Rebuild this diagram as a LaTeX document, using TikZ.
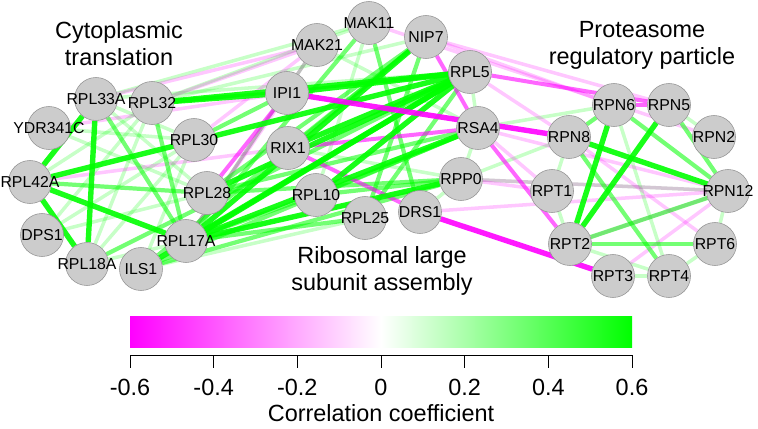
\documentclass[tikz,border=0pt]{standalone}
\usepackage{fontspec}
\setmainfont{Liberation Sans}
\usetikzlibrary{backgrounds}
\definecolor{posgreen}{RGB}{0,255,0}
\definecolor{negpink}{RGB}{255,0,255}
\definecolor{genefill}{RGB}{204,204,204}
\definecolor{geneline}{RGB}{150,150,150}
\newcommand{\gn}[1]{\makebox[0pt]{#1}}

\begin{document}
\begin{tikzpicture}[x=0.03cm, y=-0.03cm, font=\fontsize{13.5}{15}\selectfont]
  \tikzset{gene/.style={circle, fill=genefill, draw=geneline, line width=0.5pt, minimum size=1.29cm, inner sep=0pt},
    title/.style={align=center, font=\fontsize{20}{23}\selectfont},
    gA/.style={posgreen, line width=4.6pt, opacity=0.9},
    gB/.style={posgreen, line width=3.6pt, opacity=0.55},
    gC/.style={posgreen, line width=3pt, opacity=0.22},
    mA/.style={negpink, line width=4.6pt, opacity=0.9},
    mB/.style={negpink, line width=3.4pt, opacity=0.6},
    mC/.style={negpink, line width=3pt, opacity=0.22},
    mixd/.style={gray, line width=3pt, opacity=0.5}}
  \useasboundingbox (0,0) rectangle (758,429);

  % module titles
  \node[title] (cyto) at (119,44) {Cytoplasmic\\translation};
  \node[title] (prot) at (642,45) {Proteasome\\regulatory particle};
  \node[title] (ribo) at (382,271) {Ribosomal large\\subunit assembly};

  % cytoplasmic translation
  \node[gene] (RPL33A) at (96,99) {\gn{RPL33A}};
  \node[gene] (RPL32) at (152,103) {\gn{RPL32}};
  \node[gene] (YDR341C) at (49,128) {\gn{YDR341C}};
  \node[gene] (RPL30) at (194,140) {\gn{RPL30}};
  \node[gene] (RPL42A) at (30,182) {\gn{RPL42A}};
  \node[gene] (RPL28) at (207,193) {\gn{RPL28}};
  \node[gene] (DPS1) at (42,235) {\gn{DPS1}};
  \node[gene] (RPL17A) at (186,241) {\gn{RPL17A}};
  \node[gene] (RPL18A) at (87,264) {\gn{RPL18A}};
  \node[gene] (ILS1) at (141,269) {\gn{ILS1}};

  % ribosomal large subunit assembly
  \node[gene] (MAK11) at (369,23) {\gn{MAK11}};
  \node[gene] (MAK21) at (317,45) {\gn{MAK21}};
  \node[gene] (NIP7) at (426,37) {\gn{NIP7}};
  \node[gene] (RPL5) at (470,72) {\gn{RPL5}};
  \node[gene] (IPI1) at (287,93) {\gn{IPI1}};
  \node[gene] (RSA4) at (478,128) {\gn{RSA4}};
  \node[gene] (RIX1) at (288,148) {\gn{RIX1}};
  \node[gene] (RPP0) at (461,179) {\gn{RPP0}};
  \node[gene] (RPL10) at (316,195) {\gn{RPL10}};
  \node[gene] (DRS1) at (420,212) {\gn{DRS1}};
  \node[gene] (RPL25) at (365,218) {\gn{RPL25}};

  % proteasome regulatory particle
  \node[gene] (RPN6) at (614,105) {\gn{RPN6}};
  \node[gene] (RPN5) at (669,105) {\gn{RPN5}};
  \node[gene] (RPN8) at (569,137) {\gn{RPN8}};
  \node[gene] (RPN2) at (714,137) {\gn{RPN2}};
  \node[gene] (RPT1) at (552,191) {\gn{RPT1}};
  \node[gene] (RPN12) at (728,191) {\gn{RPN12}};
  \node[gene] (RPT2) at (570,244) {\gn{RPT2}};
  \node[gene] (RPT6) at (715,244) {\gn{RPT6}};
  \node[gene] (RPT3) at (613,276) {\gn{RPT3}};
  \node[gene] (RPT4) at (669,276) {\gn{RPT4}};

  % correlations
  \begin{scope}[on background layer]
    \foreach \a/\b in {YDR341C/RPL30, YDR341C/RPL28, RPL32/RPL42A, RPL33A/RPL28, RPL18A/RPL30,
      RPL18A/RPL32, DPS1/RPL30, DPS1/RPL28, ILS1/RPL30, RPL33A/RPL30, RPL32/DPS1, RPL18A/RPP0,
      RPL32/MAK11, RPL32/NIP7, RPL33A/RPL5, ILS1/RPL25, RIX1/RPP0, MAK21/RSA4, MAK11/RPL10,
      RPL5/RSA4, RSA4/RPP0, RPP0/DRS1, RPP0/RPN8, RSA4/RPN6, RPP0/RPN12, RPL33A/MAK11,
      RPN6/RPT4, RPT2/RPT4, RPT4/RPT6, RPN12/RPT6, RPT2/RPT1, RPN8/RPT1, RPT3/RPT4, RPN5/RPN2}
      \draw[gC] (\a) -- (\b);
    \foreach \a/\b in {YDR341C/IPI1, RPL42A/RIX1, RPL33A/MAK21, RPL32/MAK21, RPL30/MAK21,
      NIP7/RPN6, MAK11/RPN2, RPL5/RPN8, RSA4/RPN12, RPP0/RPN12, RPP0/RPT1, RSA4/RPT1,
      DRS1/RPN12, RPN8/RPT6, RPT3/RPN12, RPT2/RPN12, NIP7/RPN5, IPI1/RPL17A}
      \draw[mC] (\a) -- (\b);
    \draw[mixd] (RPL17A) -- (MAK21);
    \foreach \a/\b in {RPL33A/RPL17A, RPL32/RPL17A, RPL42A/RPL28, RPL30/IPI1, RPL17A/RPL10,
      RPL17A/RPL25, ILS1/RPP0, ILS1/RSA4, ILS1/NIP7, RPL18A/RPL5, RPL28/RPP0, RPL28/RSA4,
      RPL28/NIP7, RPL25/RPL5, RPL25/NIP7, MAK11/DRS1, RPL10/RPP0, RPL10/RSA4, NIP7/RIX1,
      RPL17A/MAK11, RPN6/RPN12, RPN5/RPN12, RPN8/RPT4, RPN6/RPN8, RPT2/RPN12, RPT2/RPT6}
      \draw[gB] (\a) -- (\b);
    \foreach \a/\b in {RIX1/RSA4, RIX1/DRS1, RSA4/RPT2, RPL5/RPN5, NIP7/RSA4, IPI1/RPL28,
      RPN6/RPN5}
      \draw[mB] (\a) -- (\b);
    \foreach \a/\b in {RPL33A/RPL42A, RPL33A/RPL18A, RPL42A/RPL18A, RPL42A/RPL17A, RPL42A/RPL5,
      RPL32/RPL5, RPL32/IPI1, RPL17A/RPL5, RPL17A/RSA4, RPL17A/RPP0, RPL17A/NIP7, ILS1/RPL5,
      RPL28/RPL5, IPI1/RPL5, RIX1/RPL5, RPL10/RPL5, RPN6/RPT2, RPN5/RPT2, RPN8/RPN12}
      \draw[gA] (\a) -- (\b);
    \foreach \a/\b in {IPI1/RPN8, DRS1/RPT3}
      \draw[mA] (\a) -- (\b);
  \end{scope}

  % colour scale
  \shade[left color=negpink, right color=white] (130,316) rectangle (381,347);
  \shade[left color=white, right color=posgreen] (381,316) rectangle (632,347);
  \draw[line width=0.8pt] (130,355) -- (632,355);
  \foreach \v [count=\i from 0] in {-0.6,-0.4,-0.2,0,0.2,0.4,0.6} {
    \draw[line width=0.8pt] (130+\i*83.667,355) -- (130+\i*83.667,368);
    \node[font=\fontsize{20}{23}\selectfont] (tick\i) at (130+\i*83.667,387) {\v};
  }
  \node[title] (axis) at (381,413) {Correlation coefficient};
\end{tikzpicture}
\end{document}
